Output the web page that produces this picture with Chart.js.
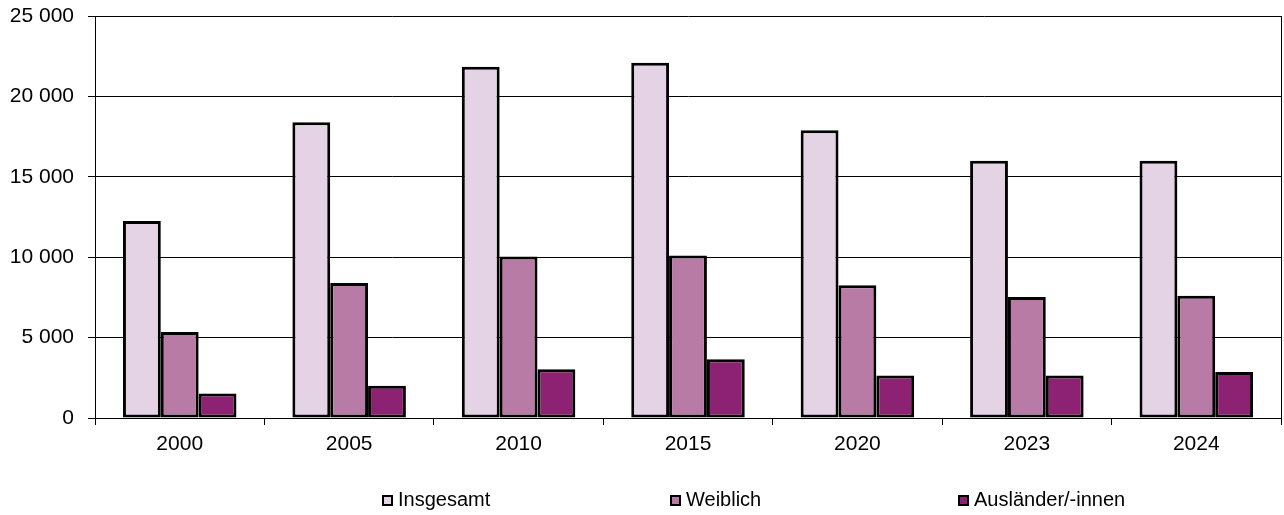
<!DOCTYPE html>
<html lang="de">
<head>
<meta charset="utf-8">
<title>Insgesamt, Weiblich, Ausländer/-innen</title>
<script src="https://cdn.jsdelivr.net/npm/chart.js@4/dist/chart.umd.min.js"></script>
<style>
  html, body { margin: 0; padding: 0; background: #fff; }
  #wrap { position: relative; width: 1284px; height: 515px; }
  #legend { font-family: "Liberation Sans", Arial, sans-serif; font-size: 20px; color: #000; }
  .item { position: absolute; top: 489px; line-height: 20px; white-space: nowrap; }
  .box { position: absolute; left: 0; top: 6px; width: 7px; height: 7px; border: 2px solid #000; }
  .item span.txt { padding-left: 16px; }
</style>
</head>
<body>
<div id="wrap">
  <canvas id="chart-bar"></canvas>
  <div id="legend"></div>
</div>
<script>
const years = ['2000', '2005', '2010', '2015', '2020', '2023', '2024'];
const insgesamt = [12250, 18400, 21850, 22100, 17900, 16000, 16000];
const weiblich = [5350, 8400, 10050, 10100, 8250, 7530, 7600];
const auslaender = [1520, 2000, 3030, 3650, 2640, 2640, 2860];
const yTicks = [0, 5000, 10000, 15000, 20000, 25000];

const seriesNames = ['Insgesamt', 'Weiblich', 'Ausländer/-innen'];
const seriesColors = ['#e3d3e4', '#b87ba5', '#8e2272'];
const legendLeft = [382, 670, 958];

window.addEventListener('DOMContentLoaded', () => {
  const ctx = document.getElementById('chart-bar');
  const font = { family: '"Liberation Sans", Arial, sans-serif', size: 21 };

  // rechter Rahmen der Zeichenfläche
  const frame = {
    id: 'frame',
    afterDraw(chart) {
      const { ctx, chartArea } = chart;
      ctx.save();
      ctx.strokeStyle = '#000';
      ctx.lineWidth = 1;
      ctx.beginPath();
      ctx.moveTo(chartArea.right + 0.5, chartArea.top);
      ctx.lineTo(chartArea.right + 0.5, chartArea.bottom);
      ctx.stroke();
      ctx.restore();
    }
  };

  const chart = new Chart(ctx, {
    type: 'bar',
    data: {
      labels: years,
      datasets: [insgesamt, weiblich, auslaender].map((values, i) => ({
        label: seriesNames[i],
        data: values,
        backgroundColor: seriesColors[i],
        borderColor: '#000',
        borderWidth: 3,
        borderSkipped: false,
        categoryPercentage: 0.67,
        barPercentage: 1
      }))
    },
    options: {
      responsive: true,
      maintainAspectRatio: false,
      animation: false,
      layout: { padding: { top: 16, right: 3, left: 0, bottom: 0 } },
      plugins: {
        legend: { display: false },
        tooltip: { enabled: false }
      },
      scales: {
        x: {
          offset: true,
          grid: {
            offset: true,
            drawOnChartArea: false,
            drawTicks: true,
            tickLength: 7,
            color: '#000'
          },
          border: { display: true, color: '#000', width: 1 },
          ticks: { color: '#000', font, padding: 7, maxRotation: 0 },
          afterFit: scale => {
            scale.height = 97;
            scale.paddingLeft = 0;
            scale.paddingRight = 0;
          }
        },
        y: {
          min: 0,
          max: 25000,
          afterBuildTicks: scale => { scale.ticks = yTicks.map(v => ({ value: v })); },
          grid: {
            color: '#000',
            lineWidth: 1,
            drawTicks: true,
            tickLength: 7
          },
          border: { display: true, color: '#000', width: 1 },
          ticks: {
            color: '#000',
            font,
            padding: 14,
            callback: v => String(v).replace(/\B(?=(\d{3})+(?!\d))/g, ' ')
          },
          afterFit: scale => {
            scale.width = 95;
            scale.paddingTop = 0;
            scale.paddingBottom = 0;
          }
        }
      }
    },
    plugins: [frame]
  });

  const legend = document.getElementById('legend');
  chart.data.datasets.forEach((ds, i) => {
    const item = document.createElement('div');
    item.className = 'item';
    item.style.left = legendLeft[i] + 'px';
    const box = document.createElement('span');
    box.className = 'box';
    box.style.background = ds.backgroundColor;
    const txt = document.createElement('span');
    txt.className = 'txt';
    txt.innerText = ds.label;
    item.appendChild(box);
    item.appendChild(txt);
    legend.appendChild(item);
  });
});
</script>
</body>
</html>
